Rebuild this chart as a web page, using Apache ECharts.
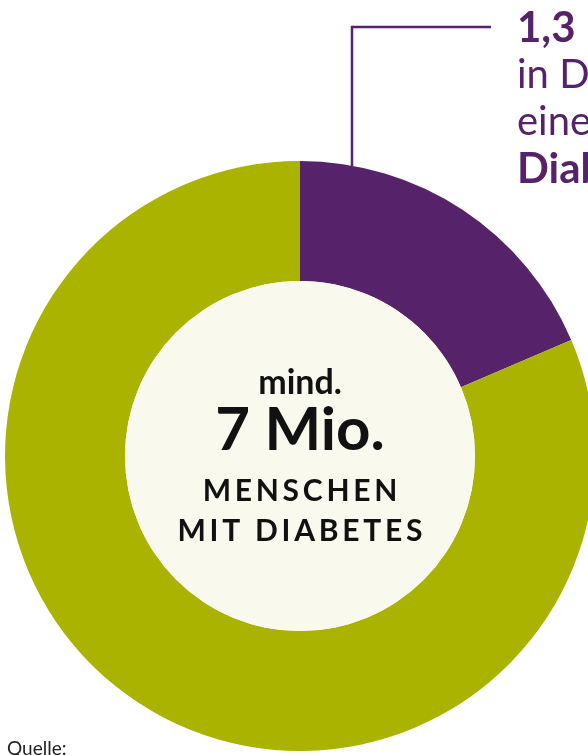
<!DOCTYPE html>
<html>
<head>
<meta charset="utf-8">
<script src="https://cdn.jsdelivr.net/npm/echarts@6/dist/echarts.min.js"></script>
<style>
  html, body { margin: 0; padding: 0; background: #fff; }
  #chart { width: 588px; height: 755px; }
</style>
</head>
<body>
<div id="chart"></div>
<script>
// Menschen mit Diabetes in Deutschland (Mio.)
const categories = ['unentdeckter Diabetes', 'bekannter Diabetes']
const values = [1.3, 5.7]
const colors = ['#56236a', '#aab400']

const centerLines = ['mind.', '7 Mio.', 'MENSCHEN', 'MIT DIABETES']
const calloutLines = ['1,3 Mio. Menschen', 'in Deutschland haben', 'einen unentdeckten', 'Diabetes']

const FONT = 'Lato, "Noto Sans", sans-serif'
const PURPLE = '#56236a'

let myChart = echarts.init(document.getElementById('chart'))

// Sperrsatz: Haarspatien zwischen die Buchstaben
function spaced(s) {
    return s.split('').join('\u200A\u200A')
}

function txt(x, y, text, font, fill, align, vAlign) {
    return {
        type: 'text', x: x, y: y, z: 100,
        style: { text: text, font: font, fill: fill, align: align || 'left', verticalAlign: vAlign || 'middle' }
    }
}

myChart.setOption({
    animation: false,
    series: [
        {
            type: 'pie',
            center: [300, 456],
            radius: [175, 295],
            startAngle: 90,
            clockwise: true,
            silent: true,
            label: { show: false },
            labelLine: { show: false },
            data: categories.map((c, i) => ({
                name: c,
                value: values[i],
                itemStyle: { color: colors[i] }
            }))
        },
        {
            // heller Innenkreis
            type: 'pie',
            center: [300, 456],
            radius: [0, 175],
            silent: true,
            label: { show: false },
            data: [{ value: 1, itemStyle: { color: '#f9f9ee' } }]
        }
    ],
    graphic: [
        {
            type: 'polyline', z: 100,
            shape: { points: [[352, 166], [352, 27], [491, 27]] },
            style: { stroke: PURPLE, lineWidth: 2.5, fill: null }
        },
        // callout rechts oben
        txt(517, 28, calloutLines[0], 'bold 42px ' + FONT, PURPLE),
        txt(517, 75, calloutLines[1], '40px ' + FONT, PURPLE),
        txt(517, 122, calloutLines[2], '40px ' + FONT, PURPLE),
        txt(517, 169, calloutLines[3], 'bold 42px ' + FONT, PURPLE),
        // Mitte
        txt(300, 383, centerLines[0], 'bold 34px ' + FONT, '#111', 'center'),
        txt(300, 431, centerLines[1], 'bold 60px ' + FONT, '#111', 'center'),
        txt(300, 491, spaced(centerLines[2]), 'bold 30px ' + FONT, '#111', 'center'),
        txt(300, 531, spaced(centerLines[3]), 'bold 30px ' + FONT, '#111', 'center'),
        // Quelle
        txt(7, 739, 'Quelle:', '19px ' + FONT, '#222', 'left', 'top')
    ]
})
</script>
</body>
</html>
